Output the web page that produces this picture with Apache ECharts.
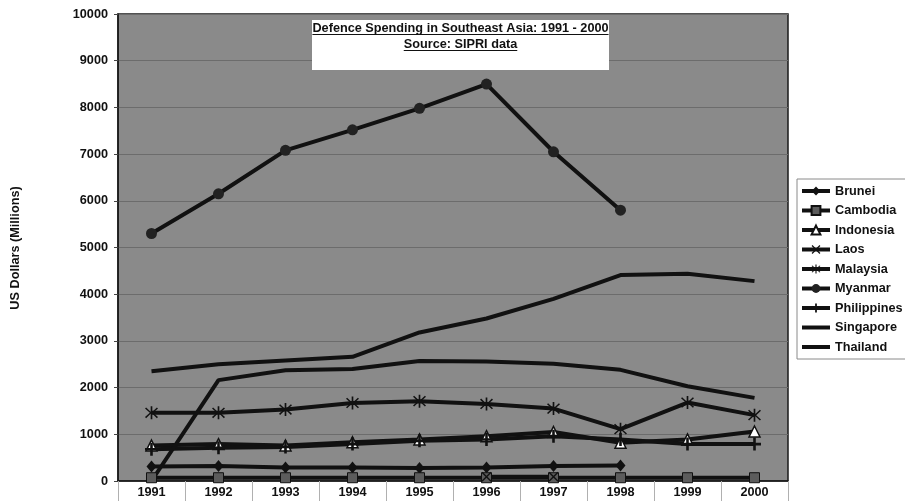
<!DOCTYPE html>
<html>
<head>
<meta charset="utf-8">
<script src="https://cdn.jsdelivr.net/npm/echarts@6/dist/echarts.min.js"></script>
<style>
  html, body { margin: 0; padding: 0; background: #ffffff; }
  #chart { width: 905px; height: 501px; }
</style>
</head>
<body>
<div id="chart"></div>
<script>
// Defence spending, US$ millions (SIPRI)
const years = ['1991', '1992', '1993', '1994', '1995', '1996', '1997', '1998', '1999', '2000'];
const brunei      = [310, 320, 290, 290, 280, 290, 320, 330, null, null];
const cambodia    = [70, 70, 70, 70, 70, 70, 70, 70, 70, 70];
const indonesia   = [760, 790, 760, 830, 890, 960, 1050, 820, 890, 1060];
const laos        = [null, null, null, null, null, 90, 90, null, null, null];
const malaysia    = [1460, 1460, 1530, 1670, 1710, 1650, 1550, 1110, 1680, 1410];
const myanmar     = [5300, 6150, 7080, 7520, 7980, 8500, 7050, 5800, null, null];
const philippines = [680, 710, 730, 790, 860, 890, 960, 890, 790, 790];
const singapore   = [2350, 2500, 2580, 2660, 3180, 3480, 3900, 4410, 4440, 4280];
const thailand    = [0, 2160, 2370, 2400, 2570, 2560, 2510, 2380, 2030, 1780];

const yTicks = { min: 0, max: 10000, step: 1000 };
const titleLines = ['Defence Spending in Southeast Asia: 1991 - 2000', 'Source: SIPRI data'];
const yAxisTitle = 'US Dollars (Millions)';

const FONT = '"Liberation Sans", Arial, Helvetica, sans-serif';
const FS = 12.7;
const INK = '#111111';

// Line-drawn marker shapes as filled outlines
const PLUS = 'path://M4,0H6V4H10V6H6V10H4V6H0V4H4Z';
const CROSS = 'path://M1,0L5,4L9,0L10,1L6,5L10,9L9,10L5,6L1,10L0,9L4,5L0,1Z';
const STAR = 'path://M4.4,0H5.6V4.2L8.9,0.9L9.7,1.7L6.2,5L9.7,8.3L8.9,9.1L5.6,5.8V10H4.4V5.8L1.1,9.1L0.3,8.3L3.8,5L0.3,1.7L1.1,0.9L4.4,4.2Z';

function lineSeries(name, data, symbol, size, item) {
  const plain = symbol === 'none';
  return {
    name: name,
    type: 'line',
    data: data,
    color: INK,
    symbol: plain ? 'circle' : symbol,
    symbolSize: plain ? 1 : size,
    showSymbol: !plain,
    connectNulls: false,
    animation: false,
    lineStyle: { color: INK, width: 4 },
    itemStyle: plain
      ? { color: 'rgba(0,0,0,0)', borderWidth: 0 }
      : Object.assign({ color: INK, borderWidth: 0 }, item || {}),
    emphasis: { disabled: true }
  };
}

const series = [
  lineSeries('Brunei', brunei, 'diamond', [10, 12]),
  lineSeries('Cambodia', cambodia, 'rect', 10, { color: '#5c5c5c', borderColor: INK, borderWidth: 1 }),
  lineSeries('Indonesia', indonesia, 'triangle', 11, { color: '#ffffff', borderColor: INK, borderWidth: 1.5 }),
  lineSeries('Laos', laos, CROSS, 10),
  lineSeries('Malaysia', malaysia, STAR, 13),
  lineSeries('Myanmar', myanmar, 'circle', 11, { color: '#222222' }),
  lineSeries('Philippines', philippines, PLUS, 13),
  lineSeries('Singapore', singapore, 'none', 0),
  lineSeries('Thailand', thailand, 'none', 0)
];

// Title box with underlined lines
const measureCtx = document.createElement('canvas').getContext('2d');
measureCtx.font = 'bold ' + FS + 'px ' + FONT;
const boxX = 312, boxY = 20, boxW = 297, boxH = 50, cx = boxX + boxW / 2;
const lineY = [28.5, 44.5];
const graphics = [
  { type: 'rect', shape: { x: boxX, y: boxY, width: boxW, height: boxH }, style: { fill: '#ffffff' }, z: 100 }
];
titleLines.forEach(function (t, i) {
  const w = measureCtx.measureText(t).width;
  graphics.push({
    type: 'text', x: cx, y: lineY[i], z: 101,
    style: { text: t, fill: INK, font: 'bold ' + FS + 'px ' + FONT, align: 'center', verticalAlign: 'middle' }
  });
  graphics.push({
    type: 'line', z: 101,
    shape: { x1: cx - w / 2, y1: lineY[i] + 6, x2: cx + w / 2, y2: lineY[i] + 6 },
    style: { stroke: INK, lineWidth: 1 }
  });
});
graphics.push({
  type: 'text', x: 15, y: 248, rotation: Math.PI / 2, z: 101,
  style: { text: yAxisTitle, fill: INK, font: 'bold ' + FS + 'px ' + FONT, align: 'center', verticalAlign: 'middle' }
});

const chart = echarts.init(document.getElementById('chart'), null, { renderer: 'canvas' });
chart.setOption({
  backgroundColor: '#ffffff',
  animation: false,
  grid: {
    left: 118, right: 117, top: 14, bottom: 20,
    show: true, backgroundColor: '#8a8a8a', borderColor: '#1a1a1a', borderWidth: 1.5
  },
  legend: {
    orient: 'vertical',
    left: 797, top: 179,
    padding: [5, 6, 5, 3],
    itemWidth: 28, itemHeight: 11, itemGap: 5.5,
    backgroundColor: '#ffffff',
    borderColor: '#8a8a8a', borderWidth: 1, borderRadius: 0,
    lineStyle: { width: 4, color: INK },
    textStyle: { color: INK, fontFamily: FONT, fontWeight: 'bold', fontSize: FS, lineHeight: 14 },
    data: series.map(function (s) { return s.name; })
  },
  xAxis: {
    type: 'category',
    data: years,
    boundaryGap: true,
    axisLine: { show: true, lineStyle: { color: '#1a1a1a', width: 1.5 } },
    axisTick: { show: true, length: 20, interval: 0, lineStyle: { color: '#b0b0b0', width: 1 } },
    axisLabel: { color: INK, fontFamily: FONT, fontWeight: 'bold', fontSize: FS, margin: 5 },
    splitLine: { show: false }
  },
  yAxis: {
    type: 'value',
    min: yTicks.min, max: yTicks.max, interval: yTicks.step,
    axisLine: { show: true, lineStyle: { color: '#1a1a1a', width: 1.5 } },
    axisTick: { show: true, length: 4, lineStyle: { color: '#444' } },
    axisLabel: {
      color: INK, fontFamily: FONT, fontWeight: 'bold', fontSize: FS, margin: 10,
      formatter: function (v) { return String(v); }
    },
    splitLine: { show: true, lineStyle: { color: '#6c6c6c', width: 1 } }
  },
  graphic: graphics,
  series: series
});
</script>
</body>
</html>
